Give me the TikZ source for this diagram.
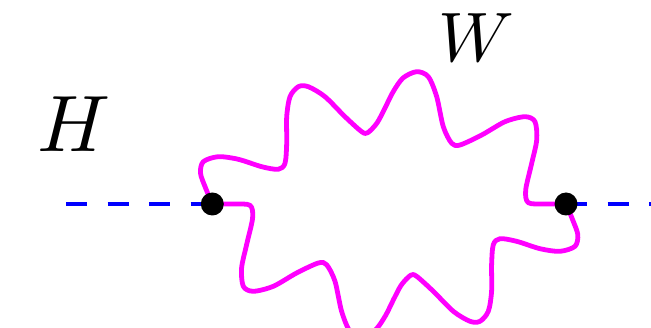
\documentclass[tikz,border=0pt]{standalone}
\usetikzlibrary{backgrounds}
\definecolor{wmag}{RGB}{255,0,255}
\definecolor{hblue}{RGB}{0,0,255}
\begin{document}
\begin{tikzpicture}[x=1pt,y=-1pt,
  scalar/.style={draw=hblue, line width=4.5pt, dash pattern=on 21pt off 20.5pt},
  boson/.style={draw=wmag, line width=4.8pt, line join=round},
  vtx/.style={circle, fill=black, inner sep=0pt, minimum size=23pt},
  lbl/.style={inner sep=0pt, font=\fontsize{10}{12}\selectfont}]
\useasboundingbox (0,0) rectangle (651,328);
\node[vtx] (L) at (212.3,204) {};
\node[vtx] (R) at (566,204) {};
\coordinate (Lend) at (66,204);
\coordinate (Rend) at (662,204);
\coordinate (C) at (389.15,204);
\node[lbl, scale=8] (H) at (73.5,124.5) {$H$};
\node[lbl, scale=7] (W) at (476.5,38) {$W$};
\begin{scope}[on background layer]
\draw[scalar] (Lend) -- (L.center);
\draw[scalar] (R.center) -- (Rend);
\foreach \ang in {0,180}{
\draw[boson, rotate around={\ang:(C)}] plot[smooth, tension=0.5] coordinates {
 (212.3,204) (205.7,188.3) (200.5,173.3) (203.3,161.7) (218.3,156.7)
 (238.3,159.3) (261.7,166.7) (278.3,169.3) (285,163.3) (286.7,143.3)
 (286.7,116.7) (290,96.7) (298.3,86.7) (308.3,86.7) (325,96.7)
 (345,116.7) (361.7,131.7) (367.7,132.7) (377,123) (385,108)
 (393,92) (403,78) (416.7,71.7) (428.3,76.7) (436.7,96.7)
 (443.3,126.7) (451.7,143.3) (460,145) (481.7,135) (505,121.7)
 (525,116.7) (535,121.7) (536.7,140) (531.7,163.3) (525.7,190)
 (528.3,202.7) (545,204) (566,204)};
}
\end{scope}
\end{tikzpicture}
\end{document}
